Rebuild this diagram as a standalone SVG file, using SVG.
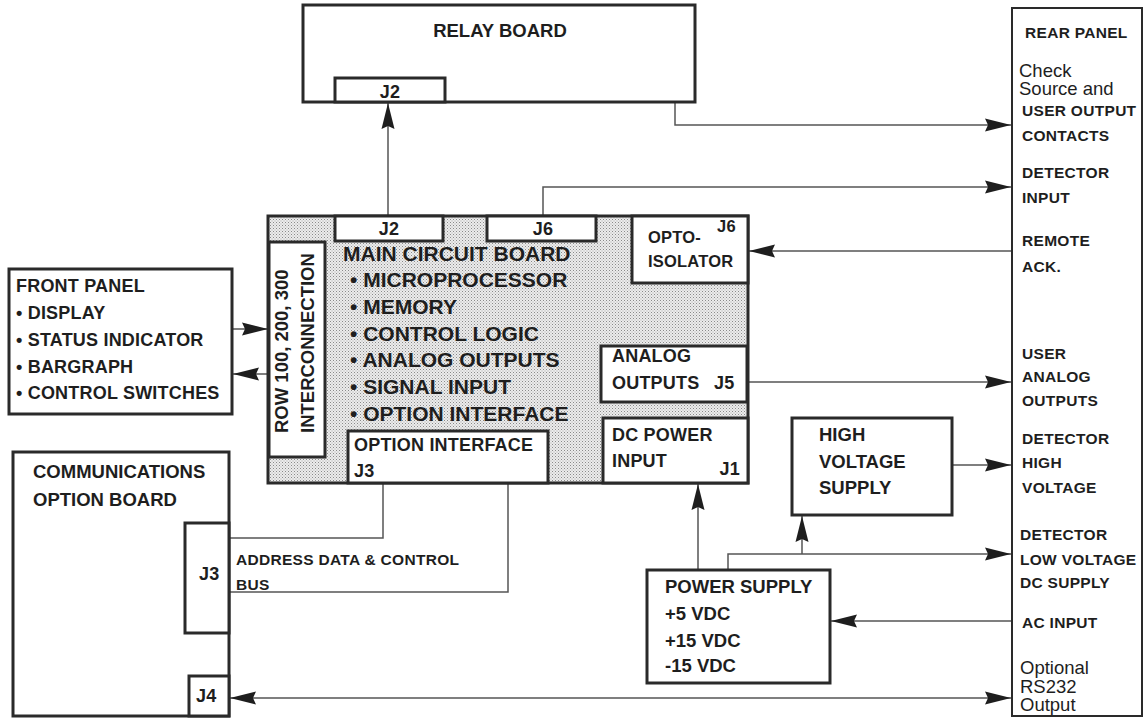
<svg xmlns="http://www.w3.org/2000/svg" width="1144" height="719" viewBox="0 0 1144 719">
<style>
.box{fill:#fff;stroke:#2a2a2a;stroke-width:3}
.sub{fill:#fff;stroke:#2a2a2a;stroke-width:3}
.main{fill:url(#stip);stroke:#2a2a2a;stroke-width:3}
.wire{fill:none;stroke:#555;stroke-width:1.5}
.arr{marker-end:url(#ah)}
text{font-family:"Liberation Sans",Arial,Helvetica,sans-serif;fill:#1e1e1e}
.b{font-weight:bold;font-size:18px;letter-spacing:0.2px}
.b18{font-weight:bold;font-size:18.5px}
.big{font-weight:bold;font-size:21px}
.rp{font-weight:bold;font-size:15.5px;letter-spacing:0.3px}
.rr{font-size:18.5px}
.bus{font-weight:bold;font-size:15.5px;letter-spacing:0.3px}
</style>
<defs>
<pattern id="stip" width="3" height="3" patternUnits="userSpaceOnUse">
<rect width="3" height="3" fill="#ececec"/>
<rect width="1" height="1" fill="#8a8a8a"/>
<rect x="1.5" y="1.5" width="1" height="1" fill="#a8a8a8"/>
</pattern>
<marker id="ah" markerUnits="userSpaceOnUse" markerWidth="27" markerHeight="14" refX="26" refY="7" orient="auto-start-reverse">
<path d="M0,0.5 L26,7 L0,13.5 L3,7 z" fill="#1e1e1e"/>
</marker>
</defs>

<g id="connectors">
<path class="wire arr" d="M388,216 V103"/>
<path class="wire arr" d="M675,103 V125 H1011"/>
<path class="wire arr" d="M543,216 V187 H1011"/>
<path class="wire arr" d="M1012,251 H749"/>
<path class="wire arr" d="M749,382 H1011"/>
<path class="wire arr" d="M952,465 H1011"/>
<path class="wire arr" d="M698,570 V484"/>
<path class="wire arr" d="M728,570 V554 H1011"/>
<path class="wire arr" d="M802,554 V516"/>
<path class="wire arr" d="M1012,621 H831"/>
<path class="wire" d="M230,538 H383 V484"/>
<path class="wire" d="M230,592 H508 V484"/>
<path class="wire" d="M230,698 H1011" marker-start="url(#ah)" marker-end="url(#ah)"/>
<path class="wire arr" d="M233,329 H268"/>
<path class="wire arr" d="M269,374 H233"/>
</g>

<g id="relay-board">
<rect class="box" x="303" y="5" width="392" height="97"/>
<text class="b18" x="500" y="37" text-anchor="middle">RELAY BOARD</text>
<rect class="sub" x="335" y="78" width="110" height="24"/>
<text class="b" x="390" y="98" text-anchor="middle">J2</text>
</g>

<g id="main-circuit-board">
<rect class="main" x="268" y="216" width="480" height="267"/>
<text class="big" x="343" y="261">MAIN CIRCUIT BOARD</text>
<text class="big" x="350" y="287">• MICROPROCESSOR</text>
<text class="big" x="350" y="314">• MEMORY</text>
<text class="big" x="350" y="341">• CONTROL LOGIC</text>
<text class="big" x="350" y="367">• ANALOG OUTPUTS</text>
<text class="big" x="350" y="394">• SIGNAL INPUT</text>
<text class="big" x="350" y="421">• OPTION INTERFACE</text>
</g>

<g id="main-j2">
<rect class="sub" x="335" y="216" width="108" height="25"/>
<text class="b" x="389" y="235" text-anchor="middle">J2</text>
</g>

<g id="main-j6">
<rect class="sub" x="487" y="216" width="109" height="25"/>
<text class="b" x="543" y="235" text-anchor="middle">J6</text>
</g>

<g id="opto-isolator">
<rect class="sub" x="632" y="216" width="116" height="67"/>
<text class="b" x="717" y="232" style="font-size:16.5px">J6</text>
<text class="b" x="648" y="243" style="font-size:16.5px">OPTO-</text>
<text class="b" x="648" y="267" style="font-size:16.5px">ISOLATOR</text>
</g>

<g id="row-interconnection">
<rect class="sub" x="269" y="242" width="56" height="215"/>
<text class="b18" transform="translate(288,433) rotate(-90)">ROW 100, 200, 300</text>
<text class="b18" transform="translate(314,433) rotate(-90)">INTERCONNECTION</text>
</g>

<g id="analog-outputs">
<rect class="sub" x="601" y="346" width="146" height="56"/>
<text class="b" x="612" y="362">ANALOG</text>
<text class="b" x="612" y="389">OUTPUTS</text>
<text class="b" x="714" y="389">J5</text>
</g>

<g id="option-interface">
<rect class="sub" x="348" y="431" width="200" height="52"/>
<text class="b" x="354" y="451">OPTION INTERFACE</text>
<text class="b" x="354" y="477">J3</text>
</g>

<g id="dc-power-input">
<rect class="sub" x="603" y="418" width="145" height="65"/>
<text class="b" x="612" y="441">DC POWER</text>
<text class="b" x="612" y="467">INPUT</text>
<text class="b" x="740" y="475" text-anchor="end">J1</text>
</g>

<g id="front-panel">
<rect class="box" x="9" y="269" width="223" height="145"/>
<text class="b" x="16" y="292">FRONT PANEL</text>
<text class="b" x="16" y="319">• DISPLAY</text>
<text class="b" x="16" y="346">• STATUS INDICATOR</text>
<text class="b" x="16" y="373">• BARGRAPH</text>
<text class="b" x="16" y="399">• CONTROL SWITCHES</text>
</g>

<g id="communications-option-board">
<rect class="box" x="13" y="452" width="216" height="264"/>
<text class="b18" x="33" y="478">COMMUNICATIONS</text>
<text class="b18" x="33" y="506">OPTION BOARD</text>
<rect class="sub" x="185" y="523" width="44" height="110"/>
<text class="b" x="199" y="580">J3</text>
<rect class="sub" x="189" y="676" width="40" height="40"/>
<text class="b" x="196" y="702">J4</text>
</g>

<g id="bus-label">
<text class="bus" x="236" y="565">ADDRESS DATA &amp; CONTROL</text>
<text class="bus" x="236" y="590">BUS</text>
</g>

<g id="high-voltage-supply">
<rect class="box" x="792" y="418" width="160" height="97"/>
<text class="b18" x="819" y="441">HIGH</text>
<text class="b18" x="819" y="468">VOLTAGE</text>
<text class="b18" x="819" y="494">SUPPLY</text>
</g>

<g id="power-supply">
<rect class="box" x="647" y="570" width="183" height="113"/>
<text class="b18" x="665" y="593">POWER SUPPLY</text>
<text class="b18" x="665" y="620">+5 VDC</text>
<text class="b18" x="665" y="647">+15 VDC</text>
<text class="b18" x="665" y="672">-15 VDC</text>
</g>

<g id="rear-panel">
<rect class="box" x="1012" y="8" width="130" height="708" style="stroke-width:2"/>
<text class="rp" x="1025" y="38">REAR PANEL</text>
<text class="rr" x="1019" y="77">Check</text>
<text class="rr" x="1019" y="95">Source and</text>
<text class="rp" x="1022" y="116">USER OUTPUT</text>
<text class="rp" x="1022" y="141">CONTACTS</text>
<text class="rp" x="1022" y="178">DETECTOR</text>
<text class="rp" x="1022" y="203">INPUT</text>
<text class="rp" x="1022" y="246">REMOTE</text>
<text class="rp" x="1022" y="272">ACK.</text>
<text class="rp" x="1022" y="359">USER</text>
<text class="rp" x="1022" y="382">ANALOG</text>
<text class="rp" x="1022" y="406">OUTPUTS</text>
<text class="rp" x="1022" y="444">DETECTOR</text>
<text class="rp" x="1022" y="468">HIGH</text>
<text class="rp" x="1022" y="493">VOLTAGE</text>
<text class="rp" x="1020" y="540">DETECTOR</text>
<text class="rp" x="1020" y="565">LOW VOLTAGE</text>
<text class="rp" x="1020" y="588">DC SUPPLY</text>
<text class="rp" x="1022" y="628">AC INPUT</text>
<text class="rr" x="1020" y="674">Optional</text>
<text class="rr" x="1020" y="693">RS232</text>
<text class="rr" x="1020" y="711">Output</text>
</g>
</svg>
